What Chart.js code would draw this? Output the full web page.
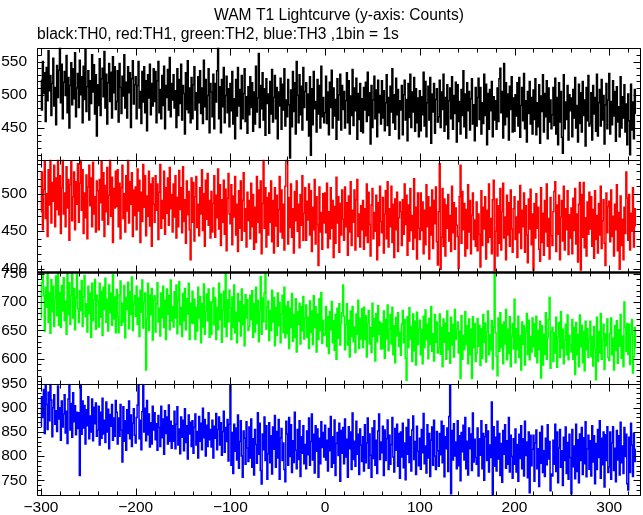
<!DOCTYPE html>
<html>
<head>
<meta charset="utf-8">
<script src="https://cdn.jsdelivr.net/npm/chart.js@4/dist/chart.umd.min.js"></script>
<style>
html,body{margin:0;padding:0;background:#fff;}
#c{display:block;}
</style>
</head>
<body>
<canvas id="c" width="643" height="515"></canvas>
<script>
// ---------------- data ----------------
const titleText = 'WAM T1 Lightcurve (y-axis: Counts)';
const subtitleText = 'black:TH0, red:TH1, green:TH2, blue:TH3 ,1bin = 1s';
const binStart = -300;              // time of first 1-s bin
const xRange = [-304.2, 333.5];
const xTickLabels = [-300, -200, -100, 0, 100, 200, 300];

const th0 = [
522,477,550,502,533,460,541,491,566,506,529,469,517,555,483,511,455,544,496,537,
572,488,546,464,519,535,499,559,473,526,450,514,548,485,539,494,563,467,510,532,
481,552,500,527,458,543,493,569,475,512,536,462,521,487,560,504,545,471,530,438,
515,484,554,469,524,540,497,565,480,531,456,518,547,490,534,465,557,503,542,478,
490,536,459,547,511,472,528,498,560,480,519,465,542,503,533,451,524,551,486,515,
527,464,514,550,480,505,457,535,489,542,473,521,446,530,495,546,470,517,483,539,
490,535,458,521,550,473,508,464,529,484,543,449,514,496,538,477,556,467,517,492,
530,480,506,451,539,469,523,487,546,462,514,502,441,533,478,551,473,510,458,526,
464,515,542,477,503,448,527,488,536,472,510,457,552,482,523,463,499,539,443,517,
504,467,531,449,517,489,536,572,464,512,443,523,482,541,458,499,528,473,509,452,
517,476,535,456,494,434,523,468,541,483,508,449,529,464,502,539,460,497,442,512,
470,527,481,518,445,504,456,543,474,495,562,451,514,479,533,462,509,439,524,487,
501,442,520,471,538,459,496,529,464,511,434,504,483,525,448,516,477,539,453,492,
467,523,485,405,507,452,535,475,518,441,550,499,458,530,470,513,447,541,481,505,
518,462,501,438,527,409,509,455,535,479,490,444,523,471,514,450,543,467,496,458,
473,528,457,504,440,519,481,537,450,510,468,493,433,524,462,500,531,447,514,478,
505,450,491,533,458,521,441,498,469,538,454,510,476,525,433,502,463,517,445,494,
443,511,477,519,460,534,469,503,426,514,451,492,528,464,507,437,522,473,499,456,
521,465,506,446,488,530,454,496,439,513,474,539,458,500,448,525,470,508,434,491,
477,514,440,500,522,462,493,431,517,466,531,451,504,474,526,445,509,458,495,437,
506,446,497,470,534,453,520,437,488,513,462,526,427,501,474,517,442,493,509,459,
467,522,451,504,478,531,445,496,455,515,434,491,510,464,527,448,499,472,519,429,
515,460,490,441,508,469,536,452,501,435,518,476,505,447,494,524,456,485,431,511,
453,496,525,463,511,441,488,457,531,469,516,425,502,448,508,476,520,437,497,462,
491,448,510,460,524,540,473,505,435,547,455,518,467,501,432,513,478,527,444,495,
445,500,468,518,453,526,436,484,511,461,532,449,491,429,505,472,520,456,496,441,
507,463,524,440,488,452,515,427,498,475,530,444,502,467,521,434,510,459,492,449,
470,511,454,525,441,496,425,518,459,505,436,412,530,449,489,463,514,432,500,476,
495,437,508,465,526,450,484,429,516,457,503,444,520,469,492,423,511,461,529,453,
457,503,432,514,471,496,445,531,438,488,508,453,523,462,499,426,485,517,449,492,
532,441,490,455,521,468,505,430,512,459,482,437,527,450,497,465,515,444,486,425,
501,461,410,516,447,489,434,508,472
];

const th1 = [
476,529,452,506,543,467,500,443,532,485,547,461,515,490,538,456,521,479,552,472,
524,447,508,547,473,501,456,536,481,519,438,512,544,464,496,529,452,516,486,540,
462,514,549,478,532,447,501,468,525,440,509,538,484,521,456,542,473,496,449,517,
504,452,519,488,543,465,528,443,511,476,535,459,498,546,470,522,435,507,481,530,
483,532,456,514,440,508,538,467,500,449,524,477,546,461,516,486,528,443,505,471,
509,452,533,477,518,435,502,463,539,482,524,444,497,470,530,457,513,430,521,486,
462,524,478,513,439,502,539,454,491,467,530,446,508,474,521,458,535,480,499,449,
513,469,524,441,495,456,531,479,508,448,536,463,492,434,517,472,503,452,412,521,
462,515,437,496,523,455,486,444,508,473,532,451,500,430,518,466,527,458,491,441,
503,449,487,524,442,498,468,533,453,512,431,492,462,518,446,506,424,494,527,473,
460,512,432,497,469,523,445,486,423,504,454,517,438,491,528,450,480,429,502,464,
491,440,514,456,499,426,482,435,523,462,505,448,517,420,487,546,454,508,429,495,
445,501,462,517,436,491,421,508,457,498,430,479,523,449,505,441,486,425,510,546,
544,433,495,455,513,442,480,421,503,464,517,450,486,428,499,458,524,438,474,508,
438,490,465,513,445,504,423,482,452,519,433,496,459,404,509,449,475,426,500,461,
501,448,514,428,476,440,508,454,491,415,483,434,522,461,496,422,487,445,505,466,
438,509,456,488,418,497,449,516,431,478,462,505,425,492,519,443,473,429,484,452,
491,426,480,444,513,435,502,459,417,485,507,440,475,450,498,412,488,431,510,463,
448,495,421,473,504,440,516,429,480,456,510,435,486,415,493,452,502,423,468,489,
476,431,492,446,513,459,498,418,485,437,507,451,471,426,520,441,482,413,501,454,
439,501,451,489,420,478,432,512,456,496,413,482,445,505,427,491,460,509,436,405,
476,540,399,442,507,430,493,417,485,454,499,437,471,423,510,448,488,426,481,458,
443,400,496,538,434,503,452,487,417,479,427,512,449,491,420,471,501,439,465,430,
489,424,473,446,402,504,431,482,453,496,413,478,435,513,442,467,420,492,518,397,
450,493,417,484,434,507,425,476,514,441,469,412,498,445,488,430,505,453,422,480,
496,439,469,415,490,448,511,427,478,456,501,422,484,445,408,493,453,506,432,473,
398,487,441,500,454,482,426,410,508,435,474,418,491,449,513,430,467,413,495,444,
431,476,503,516,423,485,446,498,412,469,491,437,510,425,480,452,504,419,472,441,
481,420,494,451,507,433,473,409,486,515,398,499,442,515,428,468,417,489,446,502,
453,496,430,479,414,504,439,471,421,487,445,510,427,464,492,434,404,501,448,483,
490,436,505,443,470,417,486,452,512,424,475,399,497,431,466,412,482,447,529,494,
438,499,425,474,450,508,429,480,457
];

const th2 = [
672,734,754,711,649,726,691,752,664,717,645,740,683,728,657,705,746,676,754,659,
717,655,729,684,743,667,702,643,754,678,734,661,712,754,672,724,651,707,748,688,
664,720,685,738,657,709,747,674,697,647,728,680,716,638,733,667,704,740,652,712,
701,656,733,673,719,641,726,687,742,664,705,649,730,681,716,659,748,670,709,646,
722,674,646,713,737,659,698,665,729,637,708,687,735,653,718,678,744,650,696,711,
675,728,661,707,639,721,682,739,654,700,716,580,670,733,650,712,678,724,633,703,
711,647,697,734,665,689,640,716,672,728,655,703,634,723,678,712,651,739,667,692,
656,718,672,730,644,703,736,660,691,639,715,667,724,651,706,679,733,634,698,663,
719,662,705,634,691,649,726,672,710,628,697,656,732,643,684,714,667,723,638,700,
643,700,725,660,708,634,691,651,733,669,714,629,686,719,656,754,639,704,665,721,
690,634,709,655,730,646,682,628,715,666,701,640,723,660,695,623,713,672,704,650,
657,712,669,720,638,697,647,726,662,703,630,685,745,643,707,665,716,754,652,691,
702,632,685,650,721,665,708,623,691,641,716,658,699,628,679,712,646,726,637,693,
644,701,618,689,655,715,631,678,638,706,612,683,660,698,626,692,649,710,635,672,
695,638,673,618,702,646,684,625,711,655,692,612,679,634,706,650,717,627,668,641,
643,692,622,674,609,683,651,701,628,667,615,678,599,689,636,697,624,663,681,730,
675,616,660,697,624,668,603,684,639,692,630,656,611,679,643,703,618,671,635,688,
620,691,634,676,603,662,685,626,655,611,698,639,671,596,680,630,694,643,665,617,
662,618,684,601,669,635,695,614,652,678,626,691,607,658,593,673,640,681,622,647,
606,661,685,628,669,601,562,674,620,690,634,657,595,679,614,666,589,682,625,652,
668,607,652,591,675,620,686,634,661,600,671,625,692,613,644,596,678,629,665,610,
620,679,608,655,586,670,629,663,599,684,616,646,592,673,624,661,603,687,634,652,
665,610,649,565,676,599,641,616,683,625,658,591,670,607,652,565,674,620,662,595,
610,671,622,659,588,653,601,678,629,663,594,647,684,607,642,616,667,582,655,754,
646,604,570,672,613,681,620,660,591,665,626,687,598,652,609,674,586,639,662,617,
705,593,653,616,675,602,641,580,665,625,658,589,647,680,607,668,598,639,612,672,
621,662,604,675,593,650,616,666,566,658,589,643,608,681,599,637,669,708,583,648,
655,595,646,610,673,585,638,664,602,683,618,652,591,633,661,607,677,598,641,625,
612,669,599,655,572,664,607,643,586,677,621,659,593,648,579,666,616,653,602,635,
666,604,639,587,657,618,563,673,595,648,610,680,599,632,661,581,644,623,670,602,
597,645,672,607,636,580,658,615,667,592,651,622,678,601,640,586,700,656,613,662,
608,661,590,643,669,575,603,655,619
];

const th3 = [
862,923,880,938,847,958,907,855,932,873,955,916,840,900,927,866,894,851,945,877,
900,833,914,860,887,927,848,893,826,918,952,854,909,839,931,871,904,844,891,857,
890,760,956,845,914,858,905,825,896,863,923,836,883,850,918,832,901,867,910,841,
854,903,823,891,837,920,846,874,828,912,850,897,815,886,862,907,833,879,841,915,
891,825,879,841,907,854,788,902,831,873,812,896,847,914,836,885,820,868,898,843,
827,880,906,953,836,874,813,892,951,850,899,832,915,844,887,819,869,825,903,854,
890,834,867,812,884,859,820,903,838,877,804,894,847,881,825,906,831,872,816,863,
831,893,815,866,902,823,856,805,881,839,874,811,898,828,863,794,885,846,870,820,
873,806,860,887,823,851,796,882,831,868,813,899,838,876,800,864,820,890,834,855,
819,874,796,862,837,888,813,855,881,823,869,802,851,893,808,859,830,876,790,866,
950,781,849,764,866,810,858,792,885,775,830,873,800,756,852,837,783,871,817,789,
860,796,877,777,836,761,855,824,785,890,804,868,770,742,846,813,881,791,863,752,
805,869,786,842,763,860,814,884,777,851,796,876,752,838,857,791,827,772,747,872,
846,781,880,799,865,766,832,787,891,812,774,855,793,873,758,840,806,863,784,824,
774,852,803,879,781,830,887,792,845,765,863,810,856,756,837,784,871,818,849,798,
864,792,833,769,857,811,882,777,840,785,875,760,826,849,801,868,748,853,806,859,
784,877,798,835,756,861,815,850,772,889,793,831,779,872,804,845,762,856,823,789,
840,769,865,786,827,879,775,846,802,756,858,795,873,781,833,764,852,887,793,829,
807,862,760,854,791,836,875,772,843,783,824,880,798,767,857,812,866,779,847,754,
850,798,868,776,827,751,859,804,876,787,840,769,854,883,793,830,762,862,810,780,
837,773,855,807,888,784,821,765,865,796,847,758,833,860,781,874,800,772,851,811,
779,847,803,872,786,863,757,840,815,858,768,882,946,722,853,792,867,800,829,774,
873,780,842,749,849,809,864,792,880,774,831,761,858,815,846,770,889,788,835,797,
783,858,759,836,802,873,774,847,750,840,865,791,852,767,823,797,912,720,861,779,
839,769,872,794,847,760,826,746,853,804,865,775,832,783,880,767,843,799,754,836,
783,856,767,824,748,845,795,863,774,836,759,872,801,829,755,850,724,843,780,814,
843,748,827,854,774,815,737,849,785,862,766,811,758,837,782,865,794,830,728,763,
759,833,783,866,768,850,745,817,855,777,811,739,839,791,860,764,828,752,845,797,
722,855,778,821,753,866,768,834,745,846,791,859,762,838,784,871,757,815,843,773,
832,759,863,788,842,743,826,772,855,797,873,754,837,782,850,736,844,791,861,766,
778,850,752,827,861,770,816,747,853,792,842,761,870,786,821,764,859,799,845,743,
730,839,766,868,823,758,847,789,814
];

const yTicksTH0 = [450, 500, 550];
const yTicksTH1 = [400, 450, 500];
const yTicksTH2 = [600, 650, 700, 750];
const yTicksTH3 = [750, 800, 850, 900, 950];

const yRangeTH0 = [402.6, 571];
const yRangeTH1 = [396, 545.5];
const yRangeTH2 = [556, 753.7];
const yRangeTH3 = [718, 950];

const xMinorStep = 20;
const yMinorStep = 10;

// ---------------- chart ----------------
const FONT_FAMILY = "'Liberation Sans', Arial, Helvetica, sans-serif";
const LABEL_FONT = {family: FONT_FAMILY, size: 15.5};
const MAJOR_LEN = 7, MINOR_LEN = 4;

const panels = [
  {id: 'y0', values: th0, ticks: yTicksTH0, range: yRangeTH0, color: '#000000'},
  {id: 'y1', values: th1, ticks: yTicksTH1, range: yRangeTH1, color: '#ff0000'},
  {id: 'y2', values: th2, ticks: yTicksTH2, range: yRangeTH2, color: '#00ff00'},
  {id: 'y3', values: th3, ticks: yTicksTH3, range: yRangeTH3, color: '#0000ff'}
];

const scales = {
  x: {
    type: 'linear', position: 'bottom',
    min: xRange[0], max: xRange[1],
    grid: {display: false, drawTicks: false},
    border: {display: false},
    ticks: {
      color: '#000', font: LABEL_FONT, padding: 2.5, autoSkip: false, maxRotation: 0,
      callback: v => (v < 0 ? '\u2212' + (-v) : String(v))
    },
    afterBuildTicks: s => { s.ticks = xTickLabels.map(v => ({value: v})); },
    afterFit: s => { s.height = 18.4; }
  }
};
// bottom panel first; the last stacked scale is laid out on top
[...panels].reverse().forEach(p => {
  scales[p.id] = {
    type: 'linear', position: 'left', stack: 'lc', stackWeight: 1,
    min: p.range[0], max: p.range[1],
    grid: {display: false, drawTicks: false},
    border: {display: false},
    ticks: {color: '#000', font: LABEL_FONT, padding: 10, autoSkip: false},
    afterBuildTicks: s => { s.ticks = p.ticks.map(v => ({value: v})); },
    afterFit: s => { s.width = 37; }
  };
});

const framePlugin = {
  id: 'lcFrame',
  beforeDatasetDraw(chart, args) {
    const ys = args.meta.yScale, ca = chart.chartArea, ctx = chart.ctx;
    ctx.save();
    ctx.beginPath();
    ctx.rect(ca.left, ys.top, ca.right - ca.left, ys.bottom - ys.top);
    ctx.clip();
  },
  afterDatasetDraw(chart) { chart.ctx.restore(); },
  afterDatasetsDraw(chart) {
    const ctx = chart.ctx, ca = chart.chartArea, xs = chart.scales.x;
    const L = Math.round(ca.left) + 0.5, R = Math.round(ca.right) - 0.5;
    ctx.save();
    ctx.strokeStyle = '#000';
    ctx.lineWidth = 1;
    ctx.beginPath();
    panels.forEach((p, k) => {
      const ys = chart.scales[p.id];
      const T = Math.round(ys.top) + 0.5;
      const B = k === panels.length - 1 ? Math.round(ys.bottom) - 0.5 : Math.round(ys.bottom) + 0.5;
      ctx.moveTo(L, T); ctx.lineTo(R, T);
      ctx.moveTo(L, B); ctx.lineTo(R, B);
      ctx.moveTo(L, T); ctx.lineTo(L, B);
      ctx.moveTo(R, T); ctx.lineTo(R, B);
      for (let v = Math.ceil(xs.min / xMinorStep) * xMinorStep; v <= xs.max; v += xMinorStep) {
        const px = Math.round(xs.getPixelForValue(v)) + 0.5;
        const len = xTickLabels.includes(v) ? MAJOR_LEN : MINOR_LEN;
        ctx.moveTo(px, T); ctx.lineTo(px, T + len);
        ctx.moveTo(px, B); ctx.lineTo(px, B - len);
      }
      for (let v = Math.ceil(ys.min / yMinorStep) * yMinorStep; v <= ys.max; v += yMinorStep) {
        const py = Math.round(ys.getPixelForValue(v)) + 0.5;
        const len = p.ticks.includes(v) ? MAJOR_LEN : MINOR_LEN;
        ctx.moveTo(L, py); ctx.lineTo(L + len, py);
        ctx.moveTo(R, py); ctx.lineTo(R - len, py);
      }
    });
    ctx.stroke();
    const yb = Math.round(chart.scales.y1.bottom) + 0.5;
    ctx.lineWidth = 2.5;
    ctx.beginPath(); ctx.moveTo(L, yb); ctx.lineTo(R, yb); ctx.stroke();
    ctx.restore();
  }
};

Chart.defaults.font.family = FONT_FAMILY;
Chart.defaults.color = '#000';

new Chart(document.getElementById('c'), {
  type: 'line',
  data: {
    datasets: panels.map(p => ({
      label: p.id,
      data: p.values.map((v, i) => ({x: binStart + i, y: v})),
      yAxisID: p.id,
      xAxisID: 'x',
      borderColor: p.color,
      backgroundColor: p.color,
      borderWidth: 1.5,
      pointRadius: 0,
      stepped: 'middle',
      fill: false
    }))
  },
  options: {
    responsive: false,
    maintainAspectRatio: false,
    animation: false,
    events: [],
    devicePixelRatio: 1,
    layout: {padding: {left: 0, right: 2, top: 0, bottom: 0}},
    scales: scales,
    plugins: {
      legend: {display: false},
      tooltip: {enabled: false},
      title: {
        display: true, text: titleText, fullSize: false, align: 'center', color: '#000',
        font: {family: FONT_FAMILY, size: 15.6, weight: 'normal', lineHeight: 1.2},
        padding: {top: 6.5, bottom: 0}
      },
      subtitle: {
        display: true, text: subtitleText, fullSize: false, align: 'start', color: '#000',
        font: {family: FONT_FAMILY, size: 15.6, weight: 'normal', lineHeight: 1.2},
        padding: {top: 0, bottom: 3.6}
      }
    }
  },
  plugins: [framePlugin]
});
</script>
</body>
</html>
